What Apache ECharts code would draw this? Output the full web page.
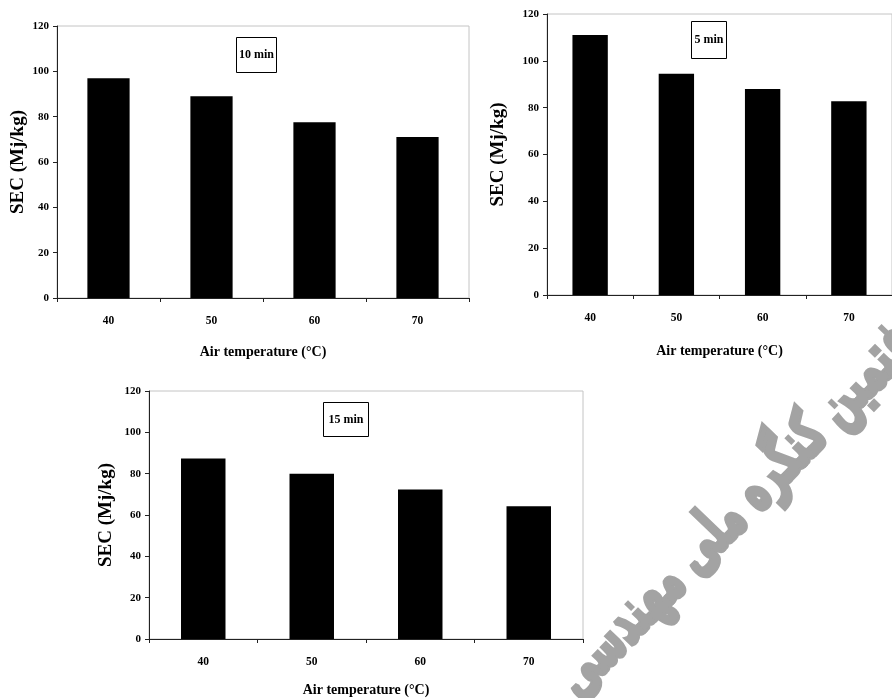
<!DOCTYPE html>
<html>
<head>
<meta charset="utf-8">
<script src="https://cdn.jsdelivr.net/npm/echarts@6/dist/echarts.min.js"></script>
<style>
html,body{margin:0;padding:0;background:#fff;}
#chart{width:892px;height:698px;}
</style>
</head>
<body>
<div id="chart"></div>
<script>
// ---- data ----
const categories = ['40', '50', '60', '70'];
const sec10min = [97, 89, 77.5, 71];
const sec5min = [111, 94.5, 88, 82.7];
const sec15min = [87.3, 80, 72.3, 64.2];
const yMin = 0, yMax = 120, yStep = 20;
const panelLabels = ['10 min', '5 min', '15 min'];
const xTitle = 'Air temperature (°C)';
const yTitle = 'SEC (Mj/kg)';
const watermarkText = 'هفتمین کنگره ملی مهندسی';

const serif = '"Liberation Serif", "Times New Roman", serif';
const axisColor = '#222';

const grids = [
  {left: 57, top: 26, width: 412, height: 272},
  {left: 547, top: 14, width: 358, height: 281},
  {left: 149, top: 391, width: 434, height: 249}
];
const yNameGaps = [29, 39, 33];
const xNameGaps = [47, 49, 44];
const seriesData = [sec10min, sec5min, sec15min];

function xAxis(i) {
  return {
    type: 'category', gridIndex: i, data: categories,
    boundaryGap: true,
    name: xTitle, nameLocation: 'middle', nameGap: xNameGaps[i],
    nameTextStyle: {fontFamily: serif, fontWeight: 'bold', fontSize: 14, color: '#000'},
    axisLine: {show: true, lineStyle: {color: axisColor, width: 1}},
    axisTick: {show: true, length: 4, inside: false, lineStyle: {color: axisColor}},
    axisLabel: {margin: 17, fontFamily: serif, fontWeight: 'bold', fontSize: 11.5, color: '#000'},
    splitLine: {show: false}
  };
}
function yAxis(i) {
  return {
    type: 'value', gridIndex: i, min: yMin, max: yMax, interval: yStep,
    name: yTitle, nameLocation: 'middle', nameGap: yNameGaps[i], nameRotate: 90,
    nameTextStyle: {fontFamily: serif, fontWeight: 'bold', fontSize: 19, color: '#000'},
    axisLine: {show: true, lineStyle: {color: axisColor, width: 1}},
    axisTick: {show: true, length: 4, lineStyle: {color: axisColor}},
    axisLabel: {margin: 8, fontFamily: serif, fontWeight: 'bold', fontSize: 11, color: '#000'},
    splitLine: {show: false}
  };
}

const boxes = [
  {x: 236, y: 37, w: 40, h: 35},
  {x: 691, y: 21, w: 35, h: 37},
  {x: 323, y: 402, w: 45, h: 34}
];
const graphics = [];
boxes.forEach((b, i) => {
  graphics.push({
    type: 'group', x: b.x, y: b.y, z: 10,
    children: [
      {type: 'rect', shape: {x: 0.5, y: 0.5, width: b.w, height: b.h},
       style: {fill: '#fff', stroke: '#000', lineWidth: 1}},
      {type: 'text', x: b.w / 2 + 0.5, y: b.h / 2 + 0.5,
       style: {text: panelLabels[i], fill: '#000', align: 'center', verticalAlign: 'middle',
               font: 'bold 12px ' + serif}}
    ]
  });
});
graphics.push({
  type: 'text', x: 746, y: 502, rotation: 46 * Math.PI / 180, scaleX: 0.58, z: 20,
  style: {text: watermarkText, fill: '#a3a3a3', stroke: '#a3a3a3', lineWidth: 5,
          align: 'center', verticalAlign: 'middle',
          font: 'bold 64px "DejaVu Sans", sans-serif'}
});

const chart = echarts.init(document.getElementById('chart'), null, {renderer: 'canvas'});
chart.setOption({
  backgroundColor: '#fff',
  animation: false,
  grid: grids.map(g => Object.assign({show: true, borderColor: '#c4c4c4', borderWidth: 1, backgroundColor: '#fff', containLabel: false}, g)),
  xAxis: [0, 1, 2].map(xAxis),
  yAxis: [0, 1, 2].map(yAxis),
  series: seriesData.map((d, i) => ({
    type: 'bar', xAxisIndex: i, yAxisIndex: i, data: d,
    barWidth: '41%', itemStyle: {color: '#000'}
  })),
  graphic: graphics
});
</script>
</body>
</html>
